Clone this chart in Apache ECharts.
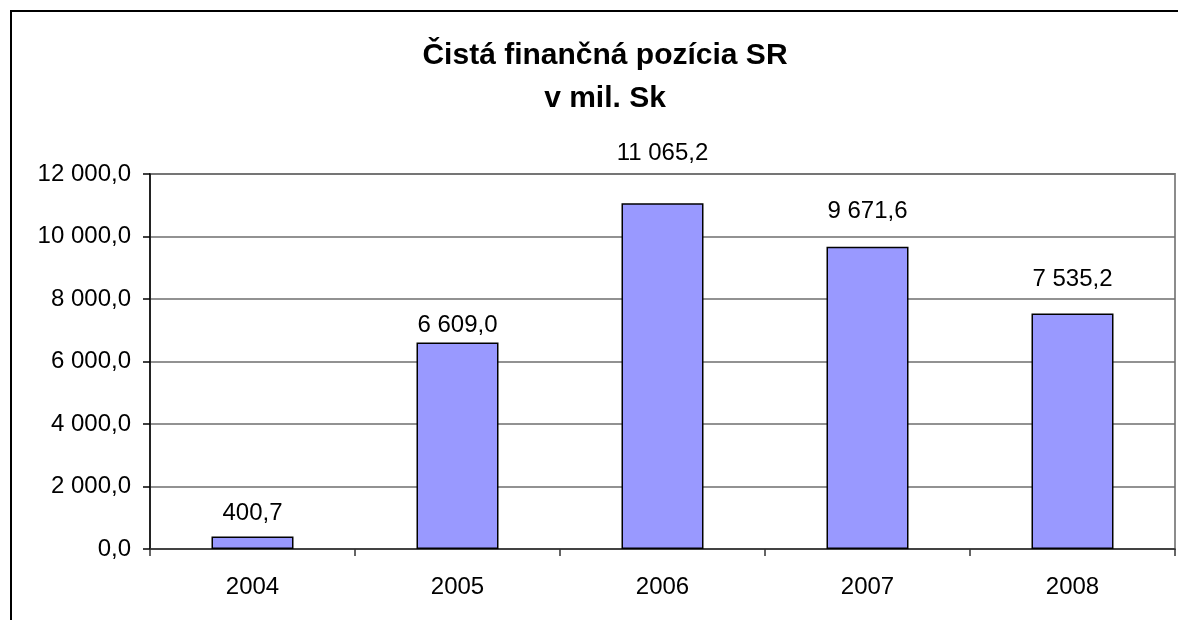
<!DOCTYPE html>
<html lang="sk">
<head>
    <meta charset="UTF-8">
    <title>Čistá finančná pozícia SR</title>
    <script src="https://cdn.jsdelivr.net/npm/echarts@6/dist/echarts.min.js"></script>
    <style>
        html, body {
            margin: 0;
            padding: 0;
            background-color: #ffffff;
        }
        #chart {
            width: 1178px;
            height: 620px;
        }
    </style>
</head>
<body>
    <div id="chart"></div>

    <script>
        // údaje grafu
        const years = ['2004', '2005', '2006', '2007', '2008'];
        const netPosition = [400.7, 6609.0, 11065.2, 9671.6, 7535.2];
        const yTicks = [0, 2000, 4000, 6000, 8000, 10000, 12000];

        // vzdialenosť popisov nad stĺpcami (v Exceli posunuté ručne)
        const labelGap = [11, 5, 38, 23, 22];

        // 12000 -> "12 000,0"
        function fmt(v) {
            const parts = Number(v).toFixed(1).split('.');
            const whole = parts[0].replace(/\B(?=(\d{3})+(?!\d))/g, ' ');
            return whole + ',' + parts[1];
        }

        const font = 'Arial, "Liberation Sans", sans-serif';
        const chart = echarts.init(document.getElementById('chart'), null, { renderer: 'canvas' });

        const option = {
            animation: false,
            backgroundColor: '#ffffff',
            textStyle: { fontFamily: font },
            title: {
                text: 'Čistá finančná pozícia SR\nv mil. Sk',
                left: 600,
                top: 29,
                textAlign: 'center',
                textStyle: {
                    fontFamily: font,
                    fontSize: 30,
                    fontWeight: 'bold',
                    color: '#000000',
                    lineHeight: 43
                }
            },
            graphic: [{
                type: 'rect',
                shape: { x: 11, y: 11, width: 1220, height: 700 },
                style: { fill: 'none', stroke: '#000000', lineWidth: 2 },
                silent: true
            }],
            grid: {
                left: 150,
                right: 3,
                top: 174,
                bottom: 71,
                show: true,
                borderColor: '#8c8c8c',
                borderWidth: 2,
                containLabel: false
            },
            xAxis: {
                type: 'category',
                data: years,
                boundaryGap: true,
                axisLine: { lineStyle: { color: '#333333', width: 1.5 } },
                axisTick: { show: true, length: 7, lineStyle: { color: '#333333', width: 1.5 } },
                axisLabel: { fontSize: 24, color: '#000000', margin: 26, fontFamily: font },
                splitLine: { show: false }
            },
            yAxis: {
                type: 'value',
                min: yTicks[0],
                max: yTicks[yTicks.length - 1],
                interval: yTicks[1] - yTicks[0],
                axisLine: { show: true, lineStyle: { color: '#000000', width: 1.5 } },
                axisTick: { show: true, length: 7, lineStyle: { color: '#000000', width: 1.5 } },
                axisLabel: {
                    fontSize: 24,
                    color: '#000000',
                    margin: 19,
                    fontFamily: font,
                    formatter: fmt
                },
                splitLine: { show: true, lineStyle: { color: '#6e6e6e', width: 1.5 } }
            },
            series: [{
                type: 'bar',
                barWidth: 82,
                data: netPosition.map((v, i) => ({
                    value: v,
                    label: { distance: labelGap[i] }
                })),
                itemStyle: {
                    color: '#9999ff',
                    borderColor: '#000000',
                    borderWidth: 1.5
                },
                label: {
                    show: true,
                    position: 'top',
                    fontSize: 24,
                    color: '#000000',
                    fontFamily: font,
                    formatter: p => fmt(p.value)
                }
            }]
        };

        chart.setOption(option);
    </script>
</body>
</html>
